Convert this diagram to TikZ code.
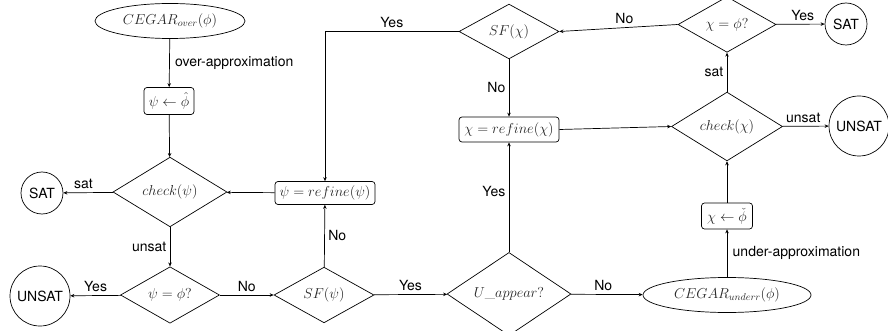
\documentclass[tikz,border=0pt]{standalone}
\usepackage[no-math]{fontspec}
\newfontfamily\hv{TeX Gyre Heros}
\usetikzlibrary{shapes.geometric,arrows.meta}
\begin{document}
\begin{tikzpicture}[x=1pt,y=-1pt,
  every node/.style={font=\fontsize{14}{16}\selectfont},
  base/.style={draw=black, line width=0.7pt, text=black!85},
  dec/.style={base, diamond, inner sep=0pt},
  proc/.style={base, rectangle, rounded corners=3pt, inner sep=2.5pt},
  term/.style={base, ellipse, inner sep=0pt},
  res/.style={draw=black, line width=0.7pt, circle, inner sep=1pt, font=\hv\fontsize{14}{16}\selectfont},
  lbl/.style={font=\hv\fontsize{14}{16}\selectfont, text=black},
  arr/.style={line width=0.7pt, -{Stealth[length=4pt,width=3.5pt]}}]
\useasboundingbox (0,0) rectangle (888,331);

% left column
\node[term, minimum width=150, minimum height=35] (co) at (170,21) {$CEGAR_{over}(\phi)$};
\node[proc, minimum width=50, minimum height=27] (pa) at (169,101) {$\psi \leftarrow \hat{\phi}$};
\node[dec, minimum width=114, minimum height=61] (ckp) at (170,192) {$check(\psi)$};
\node[res, minimum size=42] (sat1) at (42,193) {SAT};
\node[proc, minimum width=100, minimum height=23] (rp) at (325,193) {$\psi = refine(\psi)$};
\node[dec, minimum width=99, minimum height=50] (pe) at (170,295) {$\psi = \phi?$};
\node[res, minimum size=60] (uns1) at (40,296) {UNSAT};
\node[dec, minimum width=100, minimum height=50] (sfp) at (324,295) {$SF(\psi)$};
\node[dec, minimum width=124, minimum height=62] (ua) at (509,294) {$U\_appear?$};
\node[term, minimum width=168, minimum height=35] (cu) at (727,295) {$CEGAR_{underr}(\phi)$};

% right column
\node[proc, minimum width=51, minimum height=26] (ca) at (727,216) {$\chi \leftarrow \check{\phi}$};
\node[dec, minimum width=111, minimum height=57] (ckc) at (727,126.5) {$check(\chi)$};
\node[res, minimum size=60] (uns2) at (859,126) {UNSAT};
\node[proc, minimum width=100, minimum height=25] (rc) at (509,129.5) {$\chi = refine(\chi)$};
\node[dec, minimum width=100, minimum height=49] (sfc) at (509,31.5) {$SF(\chi)$};
\node[dec, minimum width=98, minimum height=49] (ce) at (727,24.5) {$\chi = \phi?$};
\node[res, minimum size=42] (sat2) at (846,24) {SAT};

\coordinate (bend) at (rp.north |- sfc.west);

% edges
\draw[arr] (co) -- node[lbl, right, xshift=2pt] {over-approximation} (pa);
\draw[arr] (pa) -- (ckp);
\draw[arr] (ckp) -- node[lbl, above, pos=0.6] {sat} (sat1);
\draw[arr] (ckp) -- node[lbl, left] {unsat} (pe);
\draw[arr] (pe) -- node[lbl, above] {Yes} (uns1);
\draw[arr] (pe) -- node[lbl, above] {No} (sfp);
\draw[arr] (sfp) -- node[lbl, right] {No} (rp);
\draw[arr] (rp) -- (ckp);
\draw[arr] (sfp) -- node[lbl, above] {Yes} (ua);
\draw[arr] (ua) -- node[lbl, above, pos=0.45] {No} (cu);
\draw[arr] (ua) -- node[lbl, left, pos=0.55] {Yes} (rc);
\draw[arr] (cu) -- node[lbl, right, xshift=2pt] {under-approximation} (ca);
\draw[arr] (ca) -- (ckc);
\draw[arr] (rc.east) -- (ckc.west);
\draw[arr] (ckc) -- node[lbl, above, pos=0.45] {unsat} (uns2);
\draw[arr] (ckc) -- node[lbl, left] {sat} (ce);
\draw[arr] (ce) -- node[lbl, above, pos=0.55] {Yes} (sat2);
\draw[arr] (ce.west) -- node[lbl, above, pos=0.45] {No} (sfc.east);
\draw[arr] (sfc) -- node[lbl, left] {No} (rc);
\draw[arr] (sfc.west) -- node[lbl, above, pos=0.5] {Yes} (bend) -- (rp.north);
\end{tikzpicture}
\end{document}
